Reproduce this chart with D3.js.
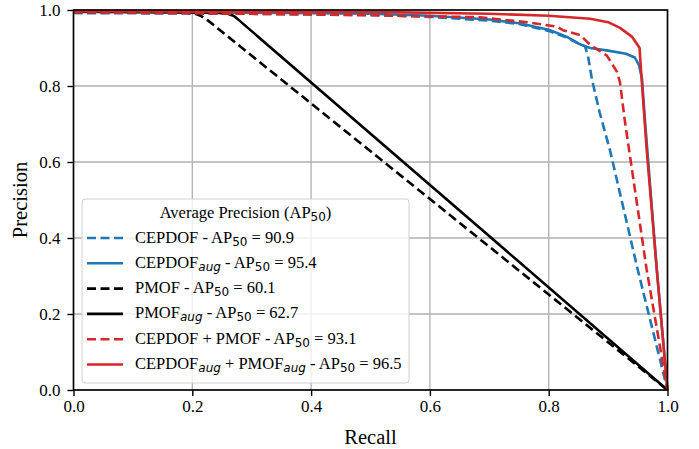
<!DOCTYPE html>
<html>
<head>
<meta charset="utf-8">
<script src="https://cdn.jsdelivr.net/npm/d3@7"></script>
<style>
  body { margin: 0; background: #fff; }
  svg { display: block; font-family: "Liberation Serif", "Times New Roman", serif; }
</style>
</head>
<body>
<svg id="canvas" width="699" height="449"></svg>
<script>
// recall / precision points
let cepdofR = [0, 0.3, 0.5, 0.6, 0.7, 0.75, 0.8, 0.83, 0.85, 0.861, 0.866, 0.873, 0.886, 0.903, 0.95, 1.0]
let cepdofP = [0.992, 0.99, 0.987, 0.982, 0.972, 0.963, 0.945, 0.928, 0.912, 0.905, 0.88, 0.816, 0.729, 0.632, 0.316, 0.0]

let cepdofAugR = [0, 0.3, 0.5, 0.6, 0.7, 0.75, 0.8, 0.83, 0.85, 0.86, 0.87, 0.9, 0.93, 0.945, 0.952, 0.957, 0.962, 0.982, 1.0]
let cepdofAugP = [0.995, 0.993, 0.99, 0.985, 0.975, 0.965, 0.948, 0.93, 0.912, 0.905, 0.9, 0.893, 0.885, 0.875, 0.855, 0.82, 0.71, 0.316, 0.0]

let pmofR = [0, 0.19, 0.205, 0.215, 0.225, 1.0]
let pmofP = [0.995, 0.993, 0.99, 0.984, 0.974, 0.0]

let pmofAugR = [0, 0.24, 0.26, 0.27, 0.275, 1.0]
let pmofAugP = [0.996, 0.993, 0.99, 0.984, 0.978, 0.0]

let comboR = [0, 0.3, 0.5, 0.684, 0.768, 0.814, 0.824, 0.853, 0.87, 0.898, 0.915, 0.92, 0.928, 0.965, 1.0]
let comboP = [0.994, 0.99, 0.986, 0.981, 0.967, 0.956, 0.947, 0.934, 0.908, 0.88, 0.837, 0.81, 0.71, 0.316, 0.0]

let comboAugR = [0, 0.5, 0.7, 0.8, 0.87, 0.9, 0.92, 0.94, 0.948, 0.953, 0.955, 0.965, 0.982, 1.0]
let comboAugP = [0.997, 0.995, 0.99, 0.985, 0.977, 0.968, 0.953, 0.93, 0.912, 0.9, 0.85, 0.632, 0.316, 0.0]

// legend labels: [text, kind] where kind '' = normal, 'sub' = subscript, 'subi' = italic subscript
let legendTitle = [['Average Precision (AP', ''], ['50', 'sub'], [')', '']]
let labels = [
  [['CEPDOF - AP', ''], ['50', 'sub'], [' = 90.9', '']],
  [['CEPDOF', ''], ['aug', 'subi'], [' - AP', ''], ['50', 'sub'], [' = 95.4', '']],
  [['PMOF - AP', ''], ['50', 'sub'], [' = 60.1', '']],
  [['PMOF', ''], ['aug', 'subi'], [' - AP', ''], ['50', 'sub'], [' = 62.7', '']],
  [['CEPDOF + PMOF - AP', ''], ['50', 'sub'], [' = 93.1', '']],
  [['CEPDOF', ''], ['aug', 'subi'], [' + PMOF', ''], ['aug', 'subi'], [' - AP', ''], ['50', 'sub'], [' = 96.5', '']]
]

let xTicks = [0, 0.2, 0.4, 0.6, 0.8, 1.0]
let yTicks = [0, 0.2, 0.4, 0.6, 0.8, 1.0]

let series = [
  {r: cepdofR, p: cepdofP, color: '#1f77b4', dash: true},
  {r: cepdofAugR, p: cepdofAugP, color: '#1f77b4', dash: false},
  {r: pmofR, p: pmofP, color: '#000000', dash: true},
  {r: pmofAugR, p: pmofAugP, color: '#000000', dash: false},
  {r: comboR, p: comboP, color: '#d62728', dash: true},
  {r: comboAugR, p: comboAugP, color: '#d62728', dash: false}
]

let canvas = d3.select('#canvas')
let pLeft = 73.5, pRight = 667.5, pTop = 10, pBottom = 390

let x = d3.scaleLinear().domain([0, 1]).range([pLeft, pRight])
let y = d3.scaleLinear().domain([0, 1]).range([pBottom, pTop])

// grid
canvas.append('g').selectAll('line').data(xTicks).enter().append('line')
  .attr('x1', d => x(d)).attr('x2', d => x(d)).attr('y1', pTop).attr('y2', pBottom)
  .attr('stroke', '#b0b0b0').attr('stroke-width', 1.3)
canvas.append('g').selectAll('line').data(yTicks).enter().append('line')
  .attr('y1', d => y(d)).attr('y2', d => y(d)).attr('x1', pLeft).attr('x2', pRight)
  .attr('stroke', '#b0b0b0').attr('stroke-width', 1.3)

canvas.append('clipPath').attr('id', 'clip').append('rect')
  .attr('x', pLeft).attr('y', pTop - 2).attr('width', pRight - pLeft + 2).attr('height', pBottom - pTop + 2)

let line = d3.line().x(d => x(d[0])).y(d => y(d[1]))

canvas.append('g').attr('clip-path', 'url(#clip)')
  .selectAll('path').data(series).enter().append('path')
  .attr('d', s => line(s.r.map((r, i) => [r, s.p[i]])))
  .attr('fill', 'none')
  .attr('stroke', s => s.color)
  .attr('stroke-width', 2.6)
  .attr('stroke-dasharray', s => s.dash ? '9,4.5' : null)
  .attr('stroke-linejoin', 'round')

// axes
let xAxis = d3.axisBottom(x).tickValues(xTicks).tickFormat(d3.format('.1f')).tickSize(6).tickPadding(4)
let yAxis = d3.axisLeft(y).tickValues(yTicks).tickFormat(d3.format('.1f')).tickSize(6).tickPadding(7)

let gx = canvas.append('g').attr('transform', `translate(0,${pBottom})`).call(xAxis)
let gy = canvas.append('g').attr('transform', `translate(${pLeft},0)`).call(yAxis)
;[gx, gy].forEach(g => {
  g.attr('font-family', '"Liberation Serif", serif').attr('font-size', 17)
  g.select('.domain').remove()
  g.selectAll('.tick line').attr('stroke', '#000').attr('stroke-width', 1.4)
  g.selectAll('.tick text').attr('fill', '#000')
})

canvas.append('rect')
  .attr('x', pLeft).attr('y', pTop).attr('width', pRight - pLeft).attr('height', pBottom - pTop)
  .attr('fill', 'none').attr('stroke', '#000').attr('stroke-width', 1.6)

canvas.append('text').attr('x', (pLeft + pRight) / 2).attr('y', 444)
  .attr('text-anchor', 'middle').style('font-size', '20.5px').text('Recall')
canvas.append('text').attr('transform', `translate(27,${(pTop + pBottom) / 2}) rotate(-90)`)
  .attr('text-anchor', 'middle').style('font-size', '20.5px').text('Precision')

// legend
let lg = canvas.append('g')
lg.append('rect').attr('x', 82).attr('y', 199).attr('width', 327).attr('height', 184)
  .attr('rx', 3).attr('fill', 'rgba(255,255,255,0.8)').attr('stroke', '#d0d0d0').attr('stroke-width', 1)

let addRich = (sel, parts) => {
  parts.forEach(([t, kind], i) => {
    let ts = sel.append('tspan').text(t)
    let prev = i > 0 ? parts[i - 1][1] : ''
    if (kind === 'sub' || kind === 'subi') {
      ts.attr('dy', 3).style('font-size', '12px').style('font-family', '"DejaVu Sans", sans-serif')
      if (kind === 'subi') ts.style('font-style', 'italic')
    } else if (prev === 'sub' || prev === 'subi') {
      ts.attr('dy', -3)
    }
  })
}

let title = lg.append('text').attr('x', 245.5).attr('y', 218).attr('text-anchor', 'middle').style('font-size', '16.5px')
addRich(title, legendTitle)

series.forEach((s, i) => {
  let cy = 238 + i * 25.3
  lg.append('line').attr('x1', 87).attr('x2', 123).attr('y1', cy).attr('y2', cy)
    .attr('stroke', s.color).attr('stroke-width', 2.6)
    .attr('stroke-dasharray', s.dash ? '9,4.5' : null)
  let t = lg.append('text').attr('x', 135).attr('y', cy + 4.5).style('font-size', '16.5px')
  addRich(t, labels[i])
})
</script>
</body>
</html>
